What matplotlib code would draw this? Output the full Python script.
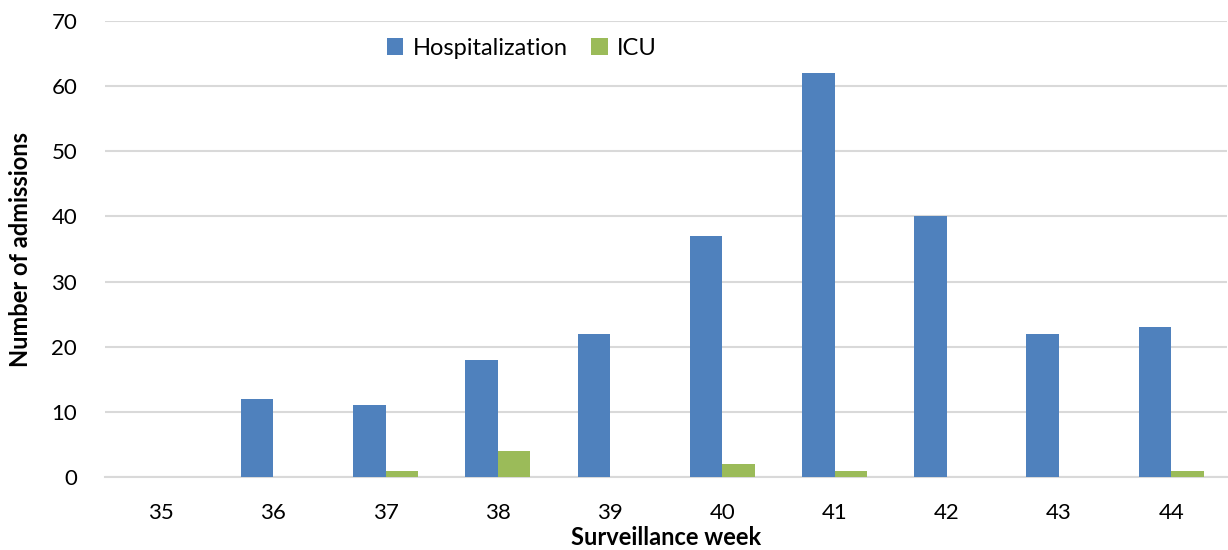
import matplotlib.pyplot as plt
import numpy as np

weeks = ['35', '36', '37', '38', '39', '40', '41', '42', '43', '44']
hosp = [0, 12, 11, 18, 22, 37, 62, 40, 22, 23]
icu = [0, 0, 1, 4, 0, 2, 1, 0, 0, 1]

plt.rcParams['font.family'] = ['Lato', 'DejaVu Sans']

fig = plt.figure(figsize=(12.28, 5.5), dpi=100)
ax = fig.add_axes([0.0855, 0.1327, 0.914, 0.8291])

x = np.arange(len(weeks))
w = 0.29
ax.bar(x - w / 2, hosp, w, color='#4F81BD', label='Hospitalization', zorder=3)
ax.bar(x + w / 2, icu, w, color='#9BBB59', label='ICU', zorder=3)

ax.set_xlim(-0.5, len(weeks) - 0.5)
ax.set_ylim(0, 70)
ax.set_yticks(range(0, 71, 10))
ax.set_xticks(x)
ax.set_xticklabels(weeks)
ax.tick_params(axis='both', length=0, labelsize=16, colors='#000000')
ax.tick_params(axis='y', pad=20)
ax.tick_params(axis='x', pad=19)
ax.grid(axis='y', color='#d9d9d9', linewidth=1.5, zorder=0)

for s in ['top', 'right', 'left']:
    ax.spines[s].set_visible(False)
ax.spines['bottom'].set_color('#d9d9d9')
ax.spines['bottom'].set_linewidth(1.5)

ax.set_xlabel('Surveillance week', fontsize=17, fontweight='bold', labelpad=2)
ax.set_ylabel('Number of admissions', fontsize=17, fontweight='bold', labelpad=14)

ax.legend(loc='upper left', bbox_to_anchor=(0.232, 1.01), ncol=2, frameon=False,
          fontsize=17, handlelength=0.7, handleheight=0.7, handletextpad=0.4,
          columnspacing=1.0)

fig.savefig('out.png', dpi=100)
